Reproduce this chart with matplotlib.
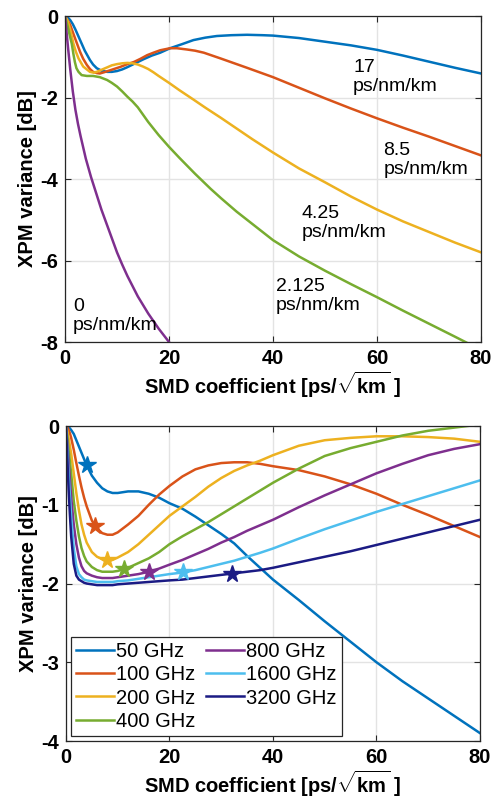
import matplotlib
matplotlib.use('Agg')
import matplotlib.pyplot as plt
import numpy as np

plt.rcParams['font.family'] = ['Liberation Sans', 'DejaVu Sans']
plt.rcParams['mathtext.fontset'] = 'custom'
plt.rcParams['mathtext.rm'] = 'Liberation Sans:bold'
plt.rcParams['mathtext.bf'] = 'Liberation Sans:bold'

# ---- top panel: dispersion values ----
x_d17 = [0, 0.5, 1, 1.5, 2, 2.9, 3.8, 4.8, 5.4, 6.1, 7, 8.1, 9, 10, 11, 11.9, 13.5,
         15.1, 16.7, 18.3, 20.2, 22.5, 24.7, 27, 29.2, 32, 35, 38, 40, 45, 50, 55,
         60, 65, 70, 75, 80]
d17 = [0, -0.03, -0.1, -0.2, -0.33, -0.59, -0.85, -1.08, -1.19, -1.28, -1.34, -1.37,
       -1.37, -1.35, -1.31, -1.26, -1.16, -1.06, -0.97, -0.9, -0.79, -0.69, -0.59,
       -0.53, -0.49, -0.47, -0.46, -0.47, -0.48, -0.54, -0.63, -0.72, -0.83, -0.97,
       -1.12, -1.27, -1.41]
x_d85 = [0, 0.5, 1, 1.6, 2.2, 2.9, 3.5, 4.2, 4.8, 5.4, 6.1, 6.7, 7.5, 8.7, 10.6, 12,
         13.2, 14.5, 15.8, 17, 18.3, 20.2, 21.5, 23.4, 25, 26.7, 29.9, 35, 40, 45, 50,
         55, 60, 65, 70, 75, 80]
d85 = [0, -0.1, -0.22, -0.43, -0.64, -0.88, -1.05, -1.2, -1.3, -1.37, -1.4, -1.41,
       -1.38, -1.33, -1.25, -1.18, -1.13, -1.05, -0.96, -0.9, -0.84, -0.79, -0.79,
       -0.82, -0.85, -0.9, -1.04, -1.27, -1.5, -1.76, -2.02, -2.27, -2.51, -2.74,
       -2.96, -3.19, -3.42]
x_d425 = [0, 0.5, 1, 1.6, 2.1, 2.6, 3.5, 4.8, 5.5, 6.1, 7, 8.1, 9, 10, 11, 12, 13, 14,
          15, 16, 17, 18, 20, 22, 24.7, 27, 30, 33, 36, 40, 45, 50, 55, 60, 65, 70,
          75, 80]
d425 = [0, -0.12, -0.33, -0.67, -0.88, -1.04, -1.24, -1.37, -1.39, -1.37, -1.32,
        -1.26, -1.21, -1.18, -1.16, -1.15, -1.16, -1.19, -1.24, -1.3, -1.38, -1.47,
        -1.64, -1.82, -2.05, -2.25, -2.5, -2.76, -3.02, -3.35, -3.74, -4.08, -4.43,
        -4.75, -5.04, -5.3, -5.56, -5.8]
x_d2125 = [0, 0.5, 1, 1.3, 1.6, 1.9, 2.2, 2.6, 3.2, 4.2, 5.4, 6.7, 8.1, 9, 10, 11, 12,
           13, 14, 15, 16, 18, 20, 22, 25, 28, 30, 33, 36, 40, 45, 50, 55, 60, 65,
           70, 75, 77, 80]
d2125 = [0, -0.25, -0.52, -0.68, -0.92, -1.13, -1.28, -1.37, -1.45, -1.47, -1.47,
         -1.5, -1.57, -1.64, -1.73, -1.85, -1.98, -2.1, -2.24, -2.42, -2.6, -2.92,
         -3.21, -3.48, -3.87, -4.24, -4.47, -4.8, -5.1, -5.5, -5.9, -6.25, -6.58,
         -6.9, -7.23, -7.55, -7.87, -8.0, -8.2]
x_d0 = [0, 0.3, 0.6, 1.0, 1.5, 2, 2.5, 3, 4, 5, 6, 7, 8, 9, 10, 11, 12, 14, 16, 18,
        20]
d0 = [0, -0.4, -0.8, -1.3, -1.85, -2.3, -2.65, -2.95, -3.5, -3.95, -4.35, -4.75,
      -5.1, -5.45, -5.8, -6.1, -6.38, -6.88, -7.3, -7.67, -8.0]

top_labels = ['17\nps/nm/km', '8.5\nps/nm/km', '4.25\nps/nm/km',
              '2.125\nps/nm/km', '0\nps/nm/km']
label_x = [55.4, 61.2, 45.5, 40.6, 1.5]
label_y = [-1.49, -3.53, -5.07, -6.88, -7.36]

# ---- bottom panel: channel spacing ----
x_bot = [0, 0.25, 0.5, 0.75, 1, 1.5, 2, 2.5, 3, 3.5, 4, 5, 6, 7, 8, 9, 10, 12, 14,
         16, 18, 20, 22.5, 25, 27.5, 30, 32.5, 35, 37.5, 40, 45, 50, 55, 60, 65, 70,
         75, 80]
g50 = [0, 0, -0.01, -0.03, -0.05, -0.1, -0.18, -0.26, -0.34, -0.42, -0.5, -0.63,
       -0.72, -0.79, -0.83, -0.85, -0.85, -0.83, -0.83, -0.86, -0.91, -0.98, -1.05,
       -1.15, -1.26, -1.37, -1.49, -1.65, -1.8, -1.95, -2.21, -2.48, -2.74, -3.0,
       -3.24, -3.46, -3.68, -3.9]
g100 = [0, -0.01, -0.05, -0.09, -0.15, -0.3, -0.47, -0.63, -0.78, -0.91, -1.02, -1.2,
        -1.3, -1.36, -1.38, -1.38, -1.35, -1.25, -1.14, -1.0, -0.87, -0.76, -0.64,
        -0.55, -0.5, -0.47, -0.46, -0.46, -0.48, -0.51, -0.56, -0.64, -0.74, -0.86,
        -1.0, -1.13, -1.27, -1.41]
g200 = [0, -0.06, -0.15, -0.25, -0.35, -0.6, -0.85, -1.07, -1.25, -1.38, -1.48, -1.6,
        -1.66, -1.69, -1.7, -1.7, -1.67, -1.6, -1.5, -1.38, -1.26, -1.14, -1.02,
        -0.9, -0.77, -0.66, -0.57, -0.5, -0.44, -0.37, -0.25, -0.18, -0.15, -0.13,
        -0.13, -0.14, -0.16, -0.2]
g400 = [0, -0.13, -0.3, -0.45, -0.6, -0.95, -1.2, -1.4, -1.55, -1.65, -1.72, -1.79,
        -1.83, -1.85, -1.85, -1.85, -1.84, -1.8, -1.74, -1.68, -1.6, -1.5, -1.4,
        -1.31, -1.22, -1.12, -1.02, -0.92, -0.82, -0.72, -0.54, -0.38, -0.28, -0.2,
        -0.12, -0.06, -0.02, 0.02]
g800 = [0, -0.22, -0.45, -0.68, -0.9, -1.25, -1.5, -1.67, -1.78, -1.84, -1.87, -1.9,
        -1.92, -1.93, -1.93, -1.93, -1.92, -1.9, -1.88, -1.85, -1.81, -1.76, -1.7,
        -1.63, -1.56, -1.48, -1.41, -1.33, -1.26, -1.19, -1.03, -0.88, -0.74, -0.6,
        -0.48, -0.37, -0.29, -0.23]
g1600 = [0, -0.3, -0.6, -0.88, -1.15, -1.55, -1.78, -1.88, -1.92, -1.95, -1.96, -1.97,
         -1.98, -1.98, -1.98, -1.98, -1.97, -1.96, -1.94, -1.92, -1.9, -1.88, -1.86,
         -1.83, -1.79, -1.75, -1.71, -1.66, -1.61, -1.555, -1.43, -1.31, -1.2, -1.09,
         -0.99, -0.89, -0.79, -0.69]
g3200 = [0, -0.4, -0.8, -1.12, -1.4, -1.75, -1.9, -1.95, -1.97, -1.99, -2.0, -2.01,
         -2.02, -2.02, -2.02, -2.02, -2.01, -2.0, -1.99, -1.98, -1.97, -1.96, -1.95,
         -1.93, -1.91, -1.89, -1.87, -1.85, -1.83, -1.8, -1.73, -1.66, -1.59, -1.51,
         -1.43, -1.35, -1.27, -1.19]
spacing_labels = ['50 GHz', '100 GHz', '200 GHz', '400 GHz', '800 GHz', '1600 GHz',
                  '3200 GHz']
star_x = [4.0, 5.66, 8.0, 11.3, 16.0, 22.6, 32.0]

c_blue = '#0072BD'
c_orange = '#D95319'
c_yellow = '#EDB120'
c_purple = '#7E2F8E'
c_green = '#77AC30'
c_cyan = '#4DBEEE'
c_navy = '#1b1b84'

LW = 1.8
FS = 14.5


def style_axes(ax, yticks):
    ax.set_xlim(0, 80)
    ax.set_xticks([0, 20, 40, 60, 80])
    ax.set_yticks(yticks)
    ax.set_yticklabels([('%g' % t) for t in yticks])
    ax.grid(True, color='#e3e3e3', linewidth=1.0)
    ax.set_axisbelow(True)
    ax.tick_params(direction='in', top=True, right=True, length=4, width=0.8,
                   labelsize=FS, colors='#262626', pad=5)
    for lab in ax.get_xticklabels() + ax.get_yticklabels():
        lab.set_fontweight('bold')
        lab.set_color('black')
    for sp in ax.spines.values():
        sp.set_color('#262626')
        sp.set_linewidth(0.9)
    ax.set_xlabel(r'SMD coefficient [ps/$\sqrt{\mathrm{km}}$ ]', fontsize=FS,
                  fontweight='bold', labelpad=1)
    ax.set_ylabel('XPM variance [dB]', fontsize=FS, fontweight='bold', labelpad=2)


fig = plt.figure(figsize=(4.91, 7.98), dpi=100)

ax1 = fig.add_axes([0.1324, 0.5714, 0.8473, 0.4085])
ax1.plot(x_d17, d17, color=c_blue, lw=LW)
ax1.plot(x_d85, d85, color=c_orange, lw=LW)
ax1.plot(x_d425, d425, color=c_yellow, lw=LW)
ax1.plot(x_d2125, d2125, color=c_green, lw=LW)
ax1.plot(x_d0, d0, color=c_purple, lw=LW)
ax1.set_ylim(-8, 0)
for txt, tx, ty in zip(top_labels, label_x, label_y):
    ax1.text(tx, ty, txt, fontsize=14, ha='left', va='center', linespacing=1.15)
style_axes(ax1, [-8, -6, -4, -2, 0])

ax2 = fig.add_axes([0.1344, 0.0714, 0.8432, 0.3947])
series = [g50, g100, g200, g400, g800, g1600, g3200]
colors = [c_blue, c_orange, c_yellow, c_green, c_purple, c_cyan, c_navy]
for ys, col, lab in zip(series, colors, spacing_labels):
    ax2.plot(x_bot, ys, color=col, lw=LW, label=lab)
for ys, col, sx in zip(series, colors, star_x):
    ax2.plot([sx], [np.interp(sx, x_bot, ys)], marker='*', ms=13, color=col,
             mec=col, linestyle='none')
ax2.set_ylim(-4, 0)
style_axes(ax2, [-4, -3, -2, -1, 0])
leg = ax2.legend(loc='lower left', ncol=2, fontsize=FS, frameon=True, fancybox=False,
                 edgecolor='#262626', framealpha=1, handlelength=1.9,
                 handletextpad=0.1, columnspacing=0.5, labelspacing=0.22,
                 borderpad=0.25, borderaxespad=0.25)
leg.get_frame().set_linewidth(0.9)

fig.savefig('out.png', dpi=100)
